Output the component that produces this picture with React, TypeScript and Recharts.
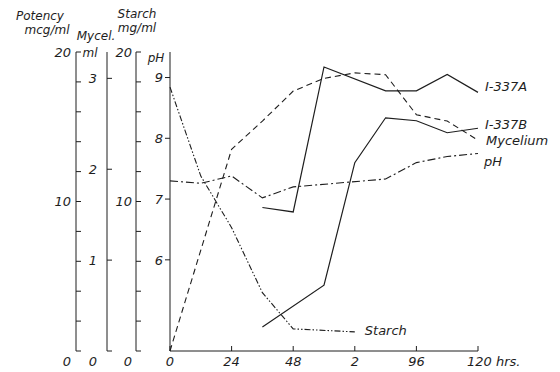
import { LineChart, Line, XAxis, YAxis, LabelList } from 'recharts'

// sampling times (hrs)
const hours = [0, 12, 24, 36, 48, 60, 72, 84, 96, 108, 120]

// potency, mcg/ml
const potencyA = [null, null, null, 9.6, 9.3, 19.0, null, 17.4, 17.4, 18.5, 17.3]
const potencyB = [null, null, null, 1.6, null, 4.4, 12.6, 15.6, 15.4, 14.6, 14.9]
// mycelium, ml
const mycelium = [0, null, 2.22, 2.53, 2.86, 3.0, 3.06, 3.04, 2.6, 2.53, 2.32]
// pH
const ph = [7.3, 7.26, 7.38, 7.02, 7.2, null, null, 7.33, 7.6, 7.7, 7.75]
// starch, mg/ml
const starch = [17.65, 11.7, 8.25, 3.9, 1.48, null, 1.28, null, null, null, null]

const hourTicks = [0, 24, 48, 72, 96, 120]
const hourLabels = ['0', '24', '48', '2', '96', '120 hrs.']
const potencyTicks = [0, 2, 4, 6, 8, 10, 12, 14, 16, 18, 20]
const potencyLabels = [0, 10, 20]
const starchTicks = [0, 2, 4, 6, 8, 10, 12, 14, 16, 18, 20]
const starchLabels = [0, 10, 20]
const myceliumTicks = [0, 1, 2, 3]
const phTicks = [6, 7, 8, 9]

const data = hours.map((h, i) => ({
  h,
  a: potencyA[i],
  b: potencyB[i],
  myc: mycelium[i],
  ph: ph[i],
  starch: starch[i],
}))

const ink = '#1e1e1e'
const font = { fontFamily: '"DejaVu Sans", sans-serif', fontStyle: 'italic', fontSize: 13, fill: ink }
const titleFont = { ...font, fontSize: 12 }

// recharts stacks left axes by id order, innermost first
const PH = 'y1_ph'
const STARCH = 'y2_starch'
const MYC = 'y3_myc'
const POT = 'y4_potency'

const yTick = (shown: number[] | null) => (p: any) => {
  const v = p.payload.value
  if (shown && !shown.includes(v)) return <g />
  return (
    <text x={p.x} y={p.y + (v === 0 ? 10 : 0)} dy="0.36em" textAnchor="end" style={font}>
      {v}
    </text>
  )
}

const xTick = (p: any) => {
  const v = p.payload.value
  const last = v === 120
  return (
    <text x={last ? p.x - 11 : p.x} y={p.y} dy="0.71em" textAnchor={last ? 'start' : 'middle'} style={font}>
      {hourLabels[hourTicks.indexOf(v)]}
    </text>
  )
}

// axis titles, placed from the axis line and the plot top
const title = (lines: [string, number, number][]) => (p: any) => {
  const vb = p.viewBox
  const ax = vb.x + vb.width
  return (
    <g>
      {lines.map(([t, dx, dy]) => (
        <text key={t} x={ax + dx} y={vb.y + dy} textAnchor="middle" style={titleFont}>
          {t}
        </text>
      ))}
    </g>
  )
}

const lastIndex = (arr: (number | null)[]) => {
  let k = -1
  arr.forEach((v, i) => { if (v != null) k = i })
  return k
}

const endLabel = (text: string, idx: number, dx: number, dy: number) => (p: any) => {
  if (p.index !== idx) return null
  return (
    <text x={p.x + dx} y={p.y + dy} textAnchor="start" style={font}>
      {text}
    </text>
  )
}

export default function App() {
  return (
    <div style={{ position: 'absolute', left: 0, top: 0, background: '#fff' }}>
      <LineChart width={560} height={372} data={data} margin={{ top: 52, right: 82, bottom: 0, left: 0 }}>
        <XAxis
          dataKey="h"
          type="number"
          domain={[0, 120]}
          ticks={hourTicks}
          height={21}
          tickSize={-5}
          tickMargin={11}
          tick={xTick}
          stroke={ink}
        />
        <YAxis
          yAxisId={PH}
          domain={[4.5, 9.42]}
          ticks={phTicks}
          width={34}
          tickSize={5}
          tickMargin={2}
          tick={yTick(null)}
          stroke={ink}
          label={{ content: title([['pH', -14, 10]]) }}
        />
        <YAxis
          yAxisId={STARCH}
          domain={[0, 20]}
          ticks={starchTicks}
          width={29}
          tickSize={-5}
          tickMargin={9}
          tick={yTick(starchLabels)}
          stroke={ink}
          label={{ content: title([['Starch', 1, -34], ['mg/ml', 1, -20]]) }}
        />
        <YAxis
          yAxisId={MYC}
          domain={[0, 3.29]}
          ticks={myceliumTicks}
          width={31}
          tickSize={-5}
          tickMargin={15}
          tick={yTick(null)}
          stroke={ink}
          label={{ content: title([['Mycel.', -11, -12], ['ml', -17, 5]]) }}
        />
        <YAxis
          yAxisId={POT}
          domain={[0, 20]}
          ticks={potencyTicks}
          width={76}
          tickSize={-5}
          tickMargin={10}
          tick={yTick(potencyLabels)}
          stroke={ink}
          label={{ content: title([['Potency', -36, -32], ['mcg/ml', -29, -18]]) }}
        />
        <Line yAxisId={POT} dataKey="a" stroke={ink} strokeWidth={1.2} dot={false} connectNulls isAnimationActive={false}>
          <LabelList content={endLabel('I-337A', lastIndex(potencyA), 7, -1)} />
        </Line>
        <Line yAxisId={POT} dataKey="b" stroke={ink} strokeWidth={1.2} dot={false} connectNulls isAnimationActive={false}>
          <LabelList content={endLabel('I-337B', lastIndex(potencyB), 7, 1)} />
        </Line>
        <Line yAxisId={MYC} dataKey="myc" stroke={ink} strokeWidth={1.1} strokeDasharray="6 4" dot={false} connectNulls isAnimationActive={false}>
          <LabelList content={endLabel('Mycelium', lastIndex(mycelium), 8, 5)} />
        </Line>
        <Line yAxisId={PH} dataKey="ph" stroke={ink} strokeWidth={1.1} strokeDasharray="8 3 2 3" dot={false} connectNulls isAnimationActive={false}>
          <LabelList content={endLabel('pH', lastIndex(ph), 6, 13)} />
        </Line>
        <Line yAxisId={STARCH} dataKey="starch" stroke={ink} strokeWidth={1.1} strokeDasharray="6 2 1.5 2 1.5 2" dot={false} connectNulls isAnimationActive={false}>
          <LabelList content={endLabel('Starch', lastIndex(starch), 10, 3)} />
        </Line>
      </LineChart>
    </div>
  )
}
